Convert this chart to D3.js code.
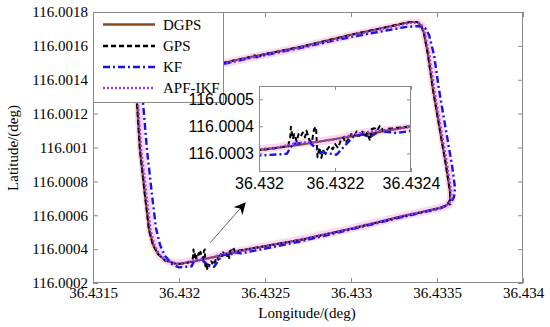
<!DOCTYPE html>
<html>
<head>
<meta charset="utf-8">
<script src="https://cdn.jsdelivr.net/npm/d3@7"></script>
<style>
  body { margin: 0; background: #fff; }
  svg { display: block; }
</style>
</head>
<body>
<svg id="chart" width="550" height="327"></svg>
<script>
// series: closed loops, lon / lat in degrees
var dgpsLon = [36.431802, 36.431744, 36.431733, 36.431756, 36.431773, 36.431802, 36.431826, 36.431849,
  36.431878, 36.431919, 36.431977, 36.432, 36.4321, 36.4322, 36.4323, 36.4324, 36.432703, 36.432994,
  36.433285, 36.433517, 36.433558, 36.433576, 36.433576, 36.433552, 36.433517, 36.433477, 36.433448,
  36.433424, 36.433407, 36.433384, 36.433343, 36.432994, 36.432703, 36.432413, 36.432256, 36.432006, 36.431802];
var dgpsLat = [116.001404, 116.001375, 116.001328, 116.001263, 116.000985, 116.00072, 116.000513, 116.000424,
  116.000371, 116.000333, 116.000315, 116.000312, 116.00033, 116.000353, 116.000375, 116.0004, 116.000454, 116.000519,
  116.00059, 116.000643, 116.00066, 116.00069, 116.000737, 116.000897, 116.001103, 116.00134, 116.001546,
  116.001676, 116.001723, 116.001741, 116.001741, 116.001664, 116.001593, 116.001534, 116.001499, 116.001446, 116.001404];

var gpsLon = [36.431802, 36.431744, 36.431733, 36.431756, 36.431773, 36.431802, 36.431826, 36.431849,
  36.431878, 36.431919, 36.431977, 36.432, 36.432020, 36.432047, 36.432068, 36.432077, 36.432082, 36.432084,
  36.432089, 36.432093, 36.432099, 36.432104, 36.432110, 36.432115, 36.432121, 36.432125, 36.432133, 36.432139,
  36.432145, 36.43215, 36.432154, 36.432159, 36.432164, 36.432169, 36.432175, 36.43218, 36.432187, 36.432194,
  36.4322, 36.432208, 36.432215, 36.432222, 36.432228, 36.432235, 36.432243, 36.43225, 36.432257, 36.432264,
  36.432271, 36.432278, 36.432285, 36.432292, 36.432297, 36.432304, 36.432311, 36.432318, 36.432327, 36.432336,
  36.432349, 36.432371, 36.432399, 36.432703, 36.432994, 36.433285, 36.433517, 36.433558, 36.433576, 36.433576,
  36.433552, 36.433517, 36.433477, 36.433448, 36.433424, 36.433407, 36.433384, 36.433343, 36.432994, 36.432703,
  36.43248, 36.43246, 36.43244, 36.432413, 36.432256, 36.432006, 36.431802];
var gpsLat = [116.001404, 116.001375, 116.001328, 116.001263, 116.000985, 116.00072, 116.000513, 116.000424,
  116.000371, 116.000333, 116.000315, 116.000313, 116.000315, 116.00032, 116.000325, 116.000328, 116.000359, 116.000398,
  116.000353, 116.000371, 116.000344, 116.000371, 116.000362, 116.000377, 116.000359, 116.000384, 116.000347, 116.000341,
  116.00039, 116.000398, 116.000286, 116.000322, 116.000283, 116.00031, 116.000298, 116.000316, 116.000328, 116.000315,
  116.000335, 116.00032, 116.000347, 116.000359, 116.000337, 116.000353, 116.000371, 116.000359, 116.000381, 116.000365,
  116.000384, 116.000359, 116.000377, 116.000347, 116.00039, 116.000393, 116.000384, 116.000402, 116.000384, 116.00039,
  116.000392, 116.000396, 116.0004, 116.000454, 116.000519, 116.00059, 116.000643, 116.00066, 116.00069, 116.000737,
  116.000897, 116.001103, 116.00134, 116.001546, 116.001676, 116.001723, 116.001741, 116.001741, 116.001664, 116.001593,
  116.001548, 116.001525, 116.001545, 116.001534, 116.001499, 116.001446, 116.001404];

var kfLon = [36.431831, 36.431779, 36.431767, 36.431791, 36.431814, 36.431843, 36.431866, 36.43189,
  36.431919, 36.431959, 36.432, 36.432073, 36.432089, 36.432134, 36.43216, 36.432204, 36.432247, 36.432271,
  36.432292, 36.432318, 36.432362, 36.4324, 36.432703, 36.432994, 36.433285, 36.433517, 36.433576, 36.433599,
  36.433605, 36.433587, 36.433552, 36.433512, 36.433483, 36.433454, 36.43343, 36.433395, 36.433314, 36.432994,
  36.432703, 36.432413, 36.432256, 36.432006, 36.431831];
var kfLat = [116.001369, 116.00134, 116.001292, 116.001263, 116.000985, 116.00072, 116.000525, 116.000424,
  116.000359, 116.000312, 116.000292, 116.000298, 116.000335, 116.00034, 116.000305, 116.000295, 116.00036, 116.000371,
  116.00036, 116.000383, 116.000375, 116.000383, 116.000445, 116.000515, 116.000586, 116.00064, 116.000666, 116.000708,
  116.000761, 116.000897, 116.001103, 116.00134, 116.001546, 116.001664, 116.001706, 116.001717, 116.001711, 116.001652,
  116.001587, 116.001528, 116.001493, 116.001434, 116.001369];

var apfLon = [36.431808, 36.43175, 36.43174, 36.431762, 36.431781, 36.431811, 36.431835, 36.431858,
  36.431886, 36.431926, 36.431982, 36.432, 36.43205, 36.4321, 36.43215, 36.4322, 36.43225, 36.4323,
  36.43235, 36.4324, 36.432703, 36.432994, 36.433285, 36.433523, 36.433564, 36.433582, 36.433583, 36.433559,
  36.433524, 36.433484, 36.433455, 36.43343, 36.433412, 36.433388, 36.433343, 36.432994, 36.432703, 36.432413,
  36.432256, 36.432006, 36.431808];
var apfLat = [116.001398, 116.00137, 116.001325, 116.00126, 116.00098, 116.000718, 116.00051, 116.000422,
  116.000368, 116.000332, 116.000316, 116.000315, 116.000322, 116.000338, 116.000342, 116.000352, 116.00037, 116.000382,
  116.000388, 116.000398, 116.000456, 116.00052, 116.000592, 116.000645, 116.000662, 116.000692, 116.000738, 116.000897,
  116.001103, 116.00134, 116.001546, 116.001674, 116.00172, 116.001738, 116.001736, 116.00166, 116.00159, 116.001531,
  116.001496, 116.001443, 116.001398];

var seriesNames = ['DGPS', 'GPS', 'KF', 'APF-IKF'];

var xTicks = [36.4315, 36.432, 36.4325, 36.433, 36.4335, 36.434];
var yTicks = [116.0002, 116.0004, 116.0006, 116.0008, 116.001, 116.0012, 116.0014, 116.0016, 116.0018];
var insetXTicks = [36.432, 36.4322, 36.4324];
var insetYTicks = [116.0003, 116.0004, 116.0005];

// arrow from the trajectory to the zoomed view
var arrowLon = [36.43218, 36.432384];
var arrowLat = [116.000436, 116.000672];

var styles = [
  { color: '#8b4a1c', width: 2.2, dash: null },
  { color: '#000', width: 2, dash: '5,3' },
  { color: '#1414e6', width: 2.4, dash: '7,3,2,3' },
  { color: '#9b3cf0', width: 2.4, dash: '2,2' }
];

function toPoints(lon, lat) {
  return lon.map(function (d, i) { return [d, lat[i]]; });
}
var tracks = [
  toPoints(dgpsLon, dgpsLat),
  toPoints(gpsLon, gpsLat),
  toPoints(kfLon, kfLat),
  toPoints(apfLon, apfLat)
];

var svg = d3.select('#chart');
var serif = 'Liberation Serif, Times New Roman, serif';
var sans = 'Liberation Sans, Arial, sans-serif';
var frameColor = '#8a8a8a';

var plot = { left: 93, right: 523, top: 12, bottom: 283 };
var x = d3.scaleLinear().domain([36.4315, 36.434]).range([plot.left, plot.right]);
var y = d3.scaleLinear().domain([116.0002, 116.0018]).range([plot.bottom, plot.top]);

var fmt = function (d) { return String(+d.toFixed(4)); };

var defs = svg.append('defs');
defs.append('clipPath').attr('id', 'mainClip').append('rect')
  .attr('x', plot.left).attr('y', plot.top)
  .attr('width', plot.right - plot.left).attr('height', plot.bottom - plot.top);

defs.append('marker')
  .attr('id', 'arrowHead')
  .attr('viewBox', '0 0 10 10')
  .attr('refX', 9).attr('refY', 5)
  .attr('markerWidth', 12).attr('markerHeight', 12)
  .attr('markerUnits', 'userSpaceOnUse')
  .attr('orient', 'auto')
  .append('path').attr('d', 'M0,0 L10,5 L0,10 L3,5 Z').attr('fill', '#000');

/**
 * Draws all four tracks into a group with given scales.
 */
function drawTracks(g, xs, ys) {
  var line = d3.line()
    .x(function (d) { return xs(d[0]); })
    .y(function (d) { return ys(d[1]); });

  // pink halo left around the dotted estimate
  g.append('path')
    .attr('d', line(tracks[3]))
    .attr('fill', 'none')
    .attr('stroke', '#f9d8f1')
    .attr('stroke-width', 8)
    .attr('stroke-linejoin', 'round');

  tracks.forEach(function (track, i) {
    var st = styles[i];
    g.append('path')
      .attr('d', line(track))
      .attr('fill', 'none')
      .attr('stroke', st.color)
      .attr('stroke-width', st.width)
      .attr('stroke-dasharray', st.dash)
      .attr('stroke-linejoin', 'round');
  });
}

// main axes box
svg.append('rect')
  .attr('x', plot.left).attr('y', plot.top)
  .attr('width', plot.right - plot.left).attr('height', plot.bottom - plot.top)
  .attr('fill', '#fff');

drawTracks(svg.append('g').attr('clip-path', 'url(#mainClip)'), x, y);

function styleAxis(g, font, size) {
  g.select('.domain').remove();
  g.selectAll('.tick line').attr('stroke', frameColor);
  g.selectAll('.tick text').attr('fill', '#000')
    .style('font-family', font).style('font-size', size + 'px');
}

svg.append('g')
  .attr('transform', 'translate(0,' + plot.bottom + ')')
  .call(d3.axisBottom(x).tickValues(xTicks).tickFormat(fmt).tickSize(-5).tickPadding(4))
  .call(styleAxis, serif, 15);
svg.append('g')
  .attr('transform', 'translate(0,' + plot.top + ')')
  .call(d3.axisTop(x).tickValues(xTicks).tickFormat('').tickSize(-5))
  .call(styleAxis, serif, 15);
svg.append('g')
  .attr('transform', 'translate(' + plot.left + ',0)')
  .call(d3.axisLeft(y).tickValues(yTicks).tickFormat(fmt).tickSize(-5).tickPadding(5))
  .call(styleAxis, serif, 15);
svg.append('g')
  .attr('transform', 'translate(' + plot.right + ',0)')
  .call(d3.axisRight(y).tickValues(yTicks).tickFormat('').tickSize(-5))
  .call(styleAxis, serif, 15);

svg.append('rect')
  .attr('x', plot.left + 0.5).attr('y', plot.top + 0.5)
  .attr('width', plot.right - plot.left - 1).attr('height', plot.bottom - plot.top - 1)
  .attr('fill', 'none').attr('stroke', frameColor);

svg.append('text')
  .attr('x', 307).attr('y', 318)
  .attr('text-anchor', 'middle')
  .style('font-family', serif).style('font-size', '15px')
  .text('Longitude/(deg)');
svg.append('text')
  .attr('transform', 'translate(18,148) rotate(-90)')
  .attr('text-anchor', 'middle')
  .style('font-family', serif).style('font-size', '15px')
  .text('Latitude/(deg)');

// legend
var legend = svg.append('g');
legend.append('rect')
  .attr('x', plot.left + 0.5).attr('y', plot.top + 0.5)
  .attr('width', 130).attr('height', 90)
  .attr('fill', '#fff').attr('stroke', frameColor);
var legendY = [24.5, 46, 67, 88];
seriesNames.forEach(function (name, i) {
  var st = styles[i];
  legend.append('line')
    .attr('x1', 103).attr('x2', 155)
    .attr('y1', legendY[i]).attr('y2', legendY[i])
    .attr('stroke', st.color)
    .attr('stroke-width', st.width + 0.3)
    .attr('stroke-dasharray', st.dash);
  legend.append('text')
    .attr('x', 163).attr('y', legendY[i])
    .attr('dy', '0.35em')
    .style('font-family', serif).style('font-size', '15px')
    .text(name);
});

// arrow
svg.append('line')
  .attr('x1', x(arrowLon[0])).attr('y1', y(arrowLat[0]))
  .attr('x2', x(arrowLon[1])).attr('y2', y(arrowLat[1]))
  .attr('stroke', '#666').attr('stroke-width', 1)
  .attr('marker-end', 'url(#arrowHead)');

// inset, zoomed on the noisy stretch
var inset = { left: 259, right: 411, top: 86, bottom: 172 };
var xi = d3.scaleLinear().domain([36.432, 36.4324]).range([inset.left, inset.right]);
var yi = d3.scaleLinear().domain([116.000231, 116.000549]).range([inset.bottom, inset.top]);

defs.append('clipPath').attr('id', 'insetClip').append('rect')
  .attr('x', inset.left).attr('y', inset.top)
  .attr('width', inset.right - inset.left).attr('height', inset.bottom - inset.top);

svg.append('rect')
  .attr('x', inset.left).attr('y', inset.top)
  .attr('width', inset.right - inset.left).attr('height', inset.bottom - inset.top)
  .attr('fill', '#fff');

drawTracks(svg.append('g').attr('clip-path', 'url(#insetClip)'), xi, yi);

svg.append('g')
  .attr('transform', 'translate(0,' + inset.bottom + ')')
  .call(d3.axisBottom(xi).tickValues(insetXTicks).tickFormat(fmt).tickSize(-4).tickPadding(6))
  .call(styleAxis, sans, 16);
svg.append('g')
  .attr('transform', 'translate(0,' + inset.top + ')')
  .call(d3.axisTop(xi).tickValues(insetXTicks).tickFormat('').tickSize(-4))
  .call(styleAxis, sans, 16);
svg.append('g')
  .attr('transform', 'translate(' + inset.left + ',0)')
  .call(d3.axisLeft(yi).tickValues(insetYTicks).tickFormat(fmt).tickSize(-4).tickPadding(5))
  .call(styleAxis, sans, 16);
svg.append('g')
  .attr('transform', 'translate(' + inset.right + ',0)')
  .call(d3.axisRight(yi).tickValues(insetYTicks).tickFormat('').tickSize(-4))
  .call(styleAxis, sans, 16);

svg.append('rect')
  .attr('x', inset.left + 0.5).attr('y', inset.top + 0.5)
  .attr('width', inset.right - inset.left - 1).attr('height', inset.bottom - inset.top - 1)
  .attr('fill', 'none').attr('stroke', frameColor);
</script>
</body>
</html>
